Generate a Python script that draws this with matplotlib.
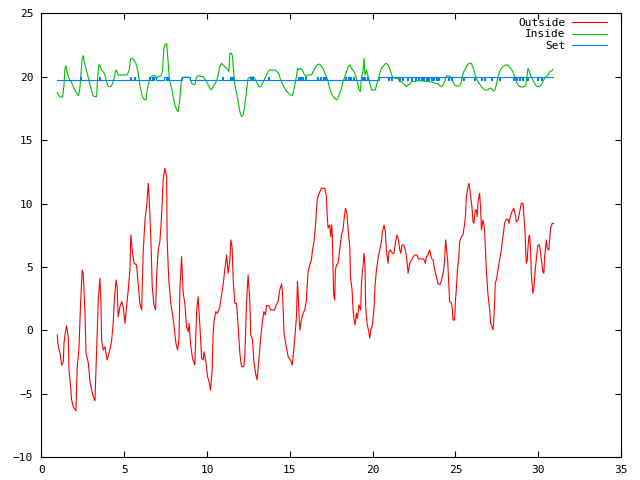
import matplotlib
matplotlib.use("Agg")
import matplotlib.pyplot as plt

# --- data (days vs temperature) ---
outside_x = [0.95, 1.0, 1.12, 1.22, 1.32, 1.36, 1.42, 1.52, 1.62, 1.66, 1.76, 1.82, 1.92, 2.08, 2.16, 2.26,
             2.37, 2.46, 2.52, 2.63, 2.69, 2.83, 2.93, 3.03, 3.13, 3.23, 3.33, 3.43, 3.49, 3.53, 3.59, 3.63,
             3.73, 3.83, 3.97, 4.13, 4.24, 4.33, 4.39, 4.5, 4.57, 4.63, 4.74, 4.84, 4.94, 5.04, 5.14, 5.24,
             5.34, 5.4, 5.5, 5.6, 5.74, 5.84, 5.94, 6.05, 6.14, 6.25, 6.35, 6.45, 6.51, 6.61, 6.69, 6.79,
             6.89, 6.95, 7.05, 7.15, 7.25, 7.35, 7.45, 7.56, 7.59, 7.69, 7.81, 7.92, 8.01, 8.12, 8.22, 8.3,
             8.36, 8.46, 8.56, 8.66, 8.76, 8.86, 8.92, 9.0, 9.12, 9.26, 9.37, 9.46, 9.57, 9.67, 9.77, 9.82,
             9.93, 10.03, 10.13, 10.21, 10.31, 10.37, 10.43, 10.53, 10.63, 10.77, 10.88, 10.97, 11.07, 11.18,
             11.27, 11.38, 11.44, 11.51, 11.58, 11.68, 11.78, 11.88, 11.98, 12.08, 12.22, 12.28, 12.38, 12.48,
             12.58, 12.64, 12.75, 12.82, 12.93, 13.02, 13.13, 13.23, 13.33, 13.43, 13.53, 13.59, 13.75, 13.83,
             14.09, 14.15, 14.29, 14.39, 14.5, 14.56, 14.65, 14.8, 14.9, 15.04, 15.14, 15.2, 15.3, 15.4,
             15.46, 15.5, 15.6, 15.7, 15.8, 15.9, 16.0, 16.1, 16.2, 16.3, 16.37, 16.46, 16.57, 16.61, 16.67,
             16.77, 16.91, 17.11, 17.21, 17.25, 17.31, 17.41, 17.47, 17.53, 17.57, 17.61, 17.65, 17.71, 17.75,
             17.82, 17.91, 18.01, 18.12, 18.21, 18.27, 18.36, 18.45, 18.51, 18.62, 18.66, 18.76, 18.82, 18.88,
             18.94, 19.02, 19.08, 19.18, 19.28, 19.32, 19.38, 19.42, 19.48, 19.54, 19.58, 19.66, 19.75, 19.83,
             19.89, 19.99, 20.09, 20.15, 20.23, 20.33, 20.43, 20.53, 20.59, 20.69, 20.77, 20.83, 20.93, 20.99,
             21.07, 21.19, 21.29, 21.39, 21.47, 21.56, 21.64, 21.7, 21.77, 21.88, 22.0, 22.08, 22.14, 22.24,
             22.34, 22.44, 22.54, 22.68, 22.76, 23.08, 23.19, 23.25, 23.34, 23.45, 23.55, 23.65, 23.75, 23.85,
             23.95, 24.09, 24.19, 24.29, 24.35, 24.41, 24.47, 24.53, 24.61, 24.65, 24.76, 24.82, 24.85, 24.95,
             25.0, 25.06, 25.12, 25.2, 25.26, 25.36, 25.46, 25.56, 25.62, 25.66, 25.76, 25.82, 25.9, 26.0,
             26.06, 26.12, 26.2, 26.26, 26.32, 26.36, 26.42, 26.46, 26.52, 26.57, 26.66, 26.72, 26.77, 26.87,
             26.96, 27.07, 27.13, 27.21, 27.27, 27.33, 27.41, 27.47, 27.57, 27.67, 27.77, 27.83, 27.91, 27.97,
             28.07, 28.17, 28.23, 28.32, 28.41, 28.52, 28.62, 28.68, 28.78, 28.84, 28.92, 28.98, 29.08, 29.14,
             29.2, 29.28, 29.34, 29.38, 29.44, 29.48, 29.54, 29.58, 29.68, 29.74, 29.82, 29.88, 29.98, 30.08,
             30.18, 30.28, 30.34, 30.39, 30.49, 30.55, 30.64, 30.69, 30.75, 30.85, 30.93]
outside_y = [-0.37, -1.16, -1.82, -2.74, -2.48, -1.0, -0.37, 0.36, -0.6, -3.13, -4.45, -5.5, -6.03, -6.35, -2.87, -1.55,
             2.39, 4.76, 4.5, 1.37, -1.8, -2.58, -4.06, -4.71, -5.24, -5.56, -1.55, 2.39, 3.44, 4.1, 2.39, -0.77,
             -1.55, -1.3, -2.34, -1.55, -0.77, 0.55, 2.13, 3.97, 3.44, 1.07, 1.86, 2.26, 1.86, 0.55, 1.86, 3.18,
             4.76, 7.52, 6.08, 5.29, 5.15, 3.71, 2.13, 1.6, 6.08, 8.7, 9.75, 11.6, 10.28, 7.13, 3.44, 2.0,
             1.6, 4.23, 6.34, 7.0, 8.97, 11.86, 12.79, 12.12, 7.13, 3.97, 2.13, 1.2, 0.28, -1.03, -1.55, -0.77,
             3.18, 5.81, 2.92, 2.13, 0.28, -0.11, 0.55, -1.03, -2.21, -2.74, 1.47, 2.65, 0.28, -2.21, -2.34, -1.69,
             -2.48, -3.66, -4.06, -4.71, -3.13, -0.24, 0.81, 1.47, 1.34, 1.86, 2.79, 3.58, 4.76, 5.94,
             4.5, 5.55, 7.13, 6.6, 3.97, 2.13, 2.13, 0.28, -1.82, -2.87, -2.87, -2.08, 2.13, 4.37,
             2.39, -0.37, -0.77, -2.34, -3.39, -3.92, -2.34, -0.77, 0.55, 1.47, 1.2, 1.94, 1.94, 1.6,
             1.6, 1.94, 2.26, 3.18, 3.65, 2.92, -0.24, -1.42, -2.08, -2.34, -2.74, -2.08, -0.63, 1.07,
             3.84, 2.92, 0.02, 0.81, 1.34, 1.6, 2.39, 4.63, 5.15, 5.55, 6.34, 7.0, 8.57, 9.63, 10.42,
             10.81, 11.21, 11.2, 10.55, 9.23, 8.05, 8.31, 7.39, 8.31, 7.39, 4.76, 2.79, 2.39, 4.76,
             5.15, 5.29, 6.34, 7.52, 7.92, 8.7, 9.63, 9.23, 8.05, 6.6, 4.23, 3.18, 1.6, 0.81,
             0.42, 1.34, 0.94, 2.0, 1.6, 3.58, 4.63, 5.02, 6.08, 5.15, 1.86, 0.55, 0.02, -0.63,
             0.02, 0.42, 1.86, 3.58, 4.76, 5.68, 6.34, 7.0, 7.78, 8.31, 7.78, 6.34, 5.29, 6.2,
             6.34, 6.08, 6.08, 7.0, 7.52, 7.13, 6.34, 6.08, 6.73, 6.73, 6.2, 5.41, 4.5, 5.29,
             5.55, 5.76, 5.94, 5.94, 5.63, 5.63, 5.29, 5.81, 5.94, 6.34, 5.68, 5.55, 4.76, 4.23,
             3.65, 3.65, 4.1, 4.76, 5.55, 7.13, 6.34, 5.55, 3.44, 2.26, 2.13, 1.6, 0.81, 0.81,
             2.26, 3.31, 4.76, 5.68, 7.0, 7.39, 7.52, 8.44, 9.23, 10.55, 11.33, 11.6, 10.81, 9.75,
             8.57, 8.44, 9.49, 9.49, 8.97, 10.02, 10.55, 10.81, 9.75, 7.92, 8.7, 8.31, 7.66, 4.76,
             2.92, 1.6, 0.55, 0.28, 0.02, 1.07, 3.71, 3.97, 4.76, 5.55, 6.34, 7.0, 7.78, 8.44,
             8.76, 8.76, 8.44, 8.97, 9.36, 9.63, 9.1, 8.57, 8.7, 9.1, 9.63, 10.02, 10.02, 8.97,
             7.78, 5.29, 5.55, 6.47, 7.39, 7.52, 6.34, 4.5, 2.92, 3.31, 4.76, 5.55, 6.73, 6.73,
             5.68, 4.63, 4.5, 5.81, 7.13, 6.47, 6.34, 7.13, 8.05, 8.44, 8.44]

inside_x = [0.95, 1.02, 1.12, 1.28, 1.36, 1.42, 1.48, 1.56, 1.66, 1.78, 1.88, 1.96, 2.06, 2.16, 2.24, 2.32,
            2.4, 2.46, 2.52, 2.58, 2.69, 2.79, 2.88, 2.99, 3.09, 3.19, 3.33, 3.39, 3.47, 3.53, 3.63, 3.73,
            3.83, 3.93, 4.03, 4.18, 4.3, 4.39, 4.5, 4.57, 4.63, 5.18, 5.3, 5.38, 5.48, 5.58, 5.7, 5.81,
            5.88, 5.94, 6.05, 6.14, 6.25, 6.31, 6.39, 6.45, 6.55, 6.71, 6.85, 6.95, 7.05, 7.19, 7.31, 7.39,
            7.47, 7.56, 7.62, 7.69, 7.75, 7.86, 7.95, 8.06, 8.16, 8.26, 8.36, 8.46, 8.56, 8.96, 9.06, 9.26,
            9.37, 9.52, 9.63, 9.77, 9.97, 10.07, 10.17, 10.27, 10.37, 10.47, 10.57, 10.67, 10.77, 10.88,
            10.97, 11.07, 11.21, 11.32, 11.38, 11.48, 11.54, 11.58, 11.68, 11.78, 11.88, 11.98, 12.08, 12.18,
            12.28, 12.38, 12.48, 12.58, 12.82, 12.93, 13.02, 13.14, 13.25, 13.35, 13.45, 13.59, 13.69, 13.79,
            14.09, 14.23, 14.35, 14.44, 14.53, 14.64, 14.74, 14.83, 14.94, 15.04, 15.14, 15.2, 15.3, 15.4,
            15.46, 15.52, 15.64, 15.76, 15.84, 15.96, 16.1, 16.31, 16.4, 16.51, 16.61, 16.71, 16.81, 16.91,
            17.01, 17.11, 17.21, 17.31, 17.41, 17.51, 17.61, 17.71, 17.82, 17.91, 18.01, 18.12, 18.21, 18.32,
            18.42, 18.52, 18.62, 18.72, 18.82, 18.92, 19.02, 19.12, 19.18, 19.26, 19.32, 19.42, 19.48, 19.54,
            19.63, 19.73, 19.83, 19.93, 20.17, 20.23, 20.33, 20.43, 20.53, 20.63, 20.73, 20.83, 20.93, 21.03,
            21.09, 21.19, 21.33, 21.53, 21.64, 21.74, 21.84, 21.94, 22.04, 22.14, 22.24, 22.34, 22.84, 23.45,
            23.95, 24.05, 24.15, 24.25, 24.35, 24.45, 24.65, 24.76, 24.85, 24.95, 25.06, 25.26, 25.36, 25.42,
            25.5, 25.62, 25.72, 25.82, 25.96, 26.06, 26.16, 26.26, 26.36, 26.46, 26.57, 26.66, 26.77, 26.96,
            27.07, 27.17, 27.27, 27.37, 27.47, 27.57, 27.67, 27.77, 27.87, 28.03, 28.17, 28.27, 28.38, 28.47,
            28.58, 28.68, 28.78, 28.88, 29.08, 29.24, 29.32, 29.38, 29.44, 29.53, 29.62, 29.72, 29.84, 29.92,
            30.08, 30.18, 30.28, 30.39, 30.49, 30.59, 30.69, 30.79, 30.89]
inside_y = [18.78, 18.57, 18.41, 18.41, 19.36, 20.67, 20.88, 20.28, 19.89, 19.62, 19.36, 19.1, 18.89, 18.63, 18.52, 19.1,
            20.41, 21.47, 21.67, 21.2, 20.67, 20.15, 19.62, 19.1, 18.57, 18.44, 18.44, 19.89, 20.99, 20.88, 20.54, 20.41,
            20.15, 19.62, 19.23, 19.23, 19.49, 19.89, 20.54, 20.41, 20.15, 20.15, 20.54, 21.41, 21.47, 21.33, 21.07, 20.54,
            19.94, 19.36, 18.7, 18.31, 18.18, 18.18, 18.97, 19.36, 19.89, 20.1, 20.1, 19.89, 20.05, 20.05, 20.41, 22.24,
            22.55, 22.63, 21.73, 20.41, 19.62, 19.1, 18.44, 17.79, 17.39, 17.26, 18.31, 19.89, 19.97, 19.97, 19.49, 19.36,
            20.02, 20.1, 20.02, 20.02, 19.62, 19.36, 19.1, 18.97, 19.23, 19.42, 19.68, 20.15, 20.8, 21.07,
            20.94, 20.8, 20.67, 20.41, 21.86, 21.86, 21.6, 20.8, 19.36, 18.7, 18.04, 17.26, 16.86, 16.99,
            17.79, 18.83, 19.89, 19.97, 19.97, 19.76, 19.49, 19.23, 19.23, 19.49, 19.76, 20.15, 20.41, 20.54,
            20.54, 20.41, 20.2, 19.76, 19.49, 19.23, 18.97, 18.83, 18.7, 18.57, 18.52, 18.7, 19.36, 20.02,
            20.67, 20.54, 20.67, 20.54, 20.28, 20.02, 20.15, 20.15, 20.41, 20.67, 20.88, 20.99, 20.99, 20.8,
            20.67, 20.28, 20.02, 19.62, 19.1, 18.7, 18.44, 18.31, 18.18, 18.31, 18.7, 19.1, 19.62, 20.02,
            20.41, 20.8, 20.94, 20.67, 20.54, 20.28, 19.89, 19.36, 18.97, 18.83, 19.89, 20.41, 21.47, 20.15,
            20.54, 20.02, 19.49, 18.97, 18.97, 19.36, 19.76, 20.28, 20.67, 20.8, 20.99, 21.07, 20.94, 20.67,
            20.41, 20.02, 19.89, 19.89, 19.62, 19.62, 19.49, 19.36, 19.23, 19.36, 19.42, 19.62, 19.7, 19.62,
            19.44, 19.28, 19.23, 19.36, 19.62, 20.07, 20.07, 19.89, 19.62, 19.36, 19.28, 19.28, 19.62, 20.02,
            20.41, 20.67, 20.94, 21.07, 21.07, 20.75, 20.28, 19.89, 19.62, 19.44, 19.23, 19.1, 18.97, 18.97,
            19.1, 19.1, 18.91, 18.91, 19.36, 20.02, 20.41, 20.67, 20.8, 20.94, 20.94, 20.75, 20.59, 20.41,
            20.02, 19.62, 19.36, 19.23, 19.2, 19.28, 20.02, 20.67, 20.54, 20.15, 19.89, 19.62, 19.36, 19.23,
            19.23, 19.36, 19.62, 19.89, 20.02, 20.15, 20.41, 20.46, 20.59]

# set point: flips between 19.75 and 20.0 at these times
set_x = [0.95, 2.35, 2.41, 3.47, 3.53, 5.36, 5.42, 5.58, 5.64, 6.5, 6.58, 6.66, 6.74, 6.82, 6.9, 7.42,
         7.5, 7.58, 7.66, 8.5, 9.0, 10.88, 10.94, 11.38, 11.44, 11.5, 11.56, 12.58, 12.64, 12.74, 12.8,
         13.68, 13.76, 15.48, 15.54, 15.62, 15.68, 15.76, 15.82, 15.9, 15.96, 16.62, 16.68, 16.8, 16.86,
         17.0, 17.06, 17.14, 17.2, 18.34, 18.4, 18.5, 18.56, 18.66, 18.72, 18.84, 18.9, 19.34, 19.4, 19.5,
         19.56, 19.64, 19.7,
         20.4,
         20.95, 21.01, 21.1, 21.16, 21.6, 21.66, 21.8, 21.86, 22.05, 22.11, 22.3, 22.36, 22.55, 22.61,
         22.75, 22.81, 22.9, 22.96, 23.05, 23.11, 23.2, 23.26, 23.35, 23.41, 23.5, 23.56, 23.65, 23.71,
         23.8, 23.86, 23.95, 24.01, 24.55, 24.61, 24.75, 24.81, 25.43, 25.49, 26.13, 26.19, 26.53, 26.59,
         26.75, 26.81, 27.14, 27.2, 27.64, 27.7, 28.45, 28.51, 28.65, 28.71, 28.85, 28.91, 29.0, 29.06,
         29.35, 29.41, 29.95, 30.01, 30.15, 30.21,
         30.9]
set_y = [19.75, 20.0] * 31 + [19.75] + [20.0] + [19.75, 20.0] * 31 + [20.0]

labels = ["Outside", "Inside", "Set"]
colors = ["#ff0000", "#00c000", "#0080ff"]

plt.rcParams["font.family"] = ["DejaVu Sans Mono"]
plt.rcParams["font.size"] = 8

fig = plt.figure(figsize=(6.4, 4.8), dpi=100)
ax = fig.add_axes([0.0648, 0.0479, 0.9055, 0.924])

ax.plot(outside_x, outside_y, color=colors[0], lw=0.8, label=labels[0])
ax.plot(inside_x, inside_y, color=colors[1], lw=0.8, label=labels[1])
ax.plot(set_x, set_y, color=colors[2], lw=0.8, drawstyle="steps-post", label=labels[2])

ax.set_xlim(0, 35)
ax.set_ylim(-10, 25)
ax.set_xticks(range(0, 36, 5))
ax.set_yticks(range(-10, 26, 5))
ax.tick_params(direction="in", length=4, width=0.8, top=True, right=True, pad=6)
for s in ax.spines.values():
    s.set_linewidth(0.8)

# legend sits tight in the top right corner, text left of the line sample
ax.legend(loc="upper right", bbox_to_anchor=(0.983, 0.999), frameon=False, markerfirst=False,
          handlelength=3.1, handletextpad=0.6, labelspacing=0.1, borderaxespad=0)

fig.savefig("out.png", dpi=100)
